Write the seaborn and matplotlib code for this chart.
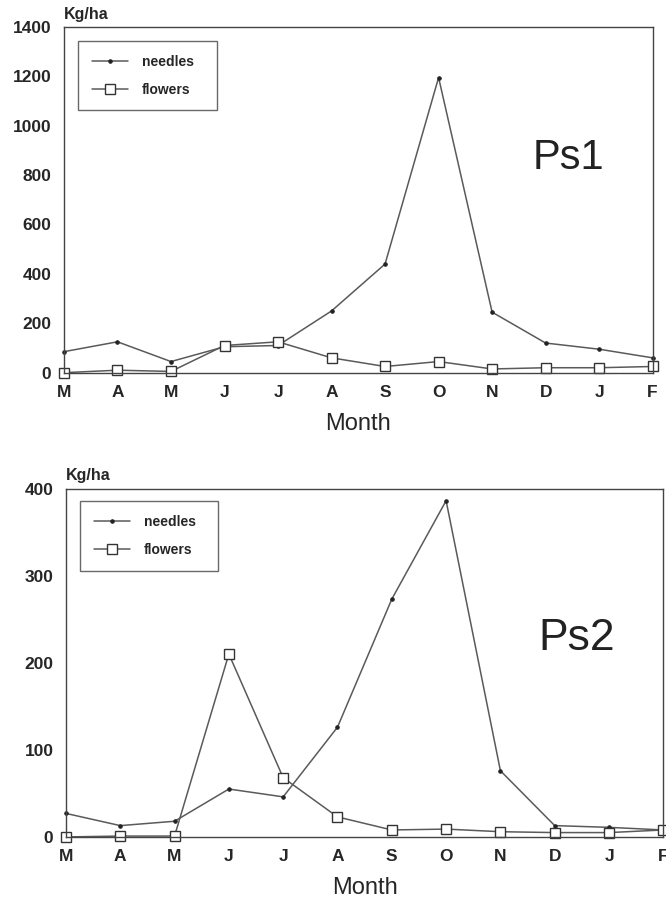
import pandas as pd
import matplotlib
matplotlib.use("Agg")
import matplotlib.pyplot as plt
import seaborn as sns

months = ["M", "A", "M", "J", "J", "A", "S", "O", "N", "D", "J", "F"]

ps1_needles = [85, 125, 45, 105, 110, 250, 440, 1195, 245, 120, 95, 60]
ps1_flowers = [0, 10, 5, 110, 125, 60, 25, 45, 15, 20, 20, 25]

ps2_needles = [27, 13, 18, 55, 46, 126, 273, 386, 76, 13, 11, 8]
ps2_flowers = [0, 1, 1, 210, 68, 23, 8, 9, 6, 5, 5, 8]

panels = [
    ("Ps1", ps1_needles, ps1_flowers, 1400, [0, 200, 400, 600, 800, 1000, 1200, 1400]),
    ("Ps2", ps2_needles, ps2_flowers, 400, [0, 100, 200, 300, 400]),
]

sns.set_theme(style="white")
plt.rcParams['font.family'] = ['Liberation Sans', 'DejaVu Sans']

line_col = "#5a5a5a"

fig = plt.figure(figsize=(6.66, 8.98), dpi=100)
ax_pos = [[0.096, 0.585, 0.884, 0.385], [0.099, 0.068, 0.897, 0.388]]
leg_box = [(0.024, 0.960, 0.236), (0.023, 0.963, 0.232)]
name_pos = [(0.857, 0.62, 30), (0.855, 0.57, 32)]

for (name, needles, flowers, ymax, yticks), pos, lb, npos in zip(panels, ax_pos, leg_box, name_pos):
    ax = fig.add_axes(pos)
    df = pd.DataFrame({"pos": list(range(len(months))) * 2,
                       "value": needles + flowers,
                       "series": ["needles"] * len(months) + ["flowers"] * len(months)})
    sns.lineplot(data=df[df.series == "needles"], x="pos", y="value", ax=ax,
                 color=line_col, lw=1.1, marker="o", markersize=2.5, clip_on=False,
                 markeredgecolor="#222222", markerfacecolor="#222222", label="needles")
    sns.lineplot(data=df[df.series == "flowers"], x="pos", y="value", ax=ax,
                 color=line_col, lw=1.1, marker="s", markersize=7, clip_on=False,
                 markerfacecolor="white", markeredgecolor="#333333", markeredgewidth=1.0,
                 label="flowers")
    ax.set_xlim(0, len(months) - 1)
    ax.set_ylim(0, ymax)
    ax.set_xticks(range(len(months)))
    ax.set_xticklabels(months, fontsize=12.5, fontweight="bold")
    ax.set_yticks(yticks)
    ax.set_yticklabels([str(t) for t in yticks], fontsize=12.5, fontweight="bold")
    ax.tick_params(axis="x", direction="in", length=4, pad=9, color="#444444")
    ax.tick_params(axis="y", direction="out", length=0, pad=9)
    for sp in ax.spines.values():
        sp.set_color("#444444")
        sp.set_linewidth(1.0)
    ax.set_xlabel("Month", fontsize=17, labelpad=9)
    ax.set_ylabel("")
    ax.text(0.0, 1.015, "Kg/ha", transform=ax.transAxes, fontsize=11.5,
            fontweight="bold", ha="left", va="bottom")
    ax.text(npos[0], npos[1], name, transform=ax.transAxes, fontsize=npos[2],
            ha="center", va="center", color="#222222")
    leg = ax.legend(loc="upper left", bbox_to_anchor=(lb[0], lb[1] - 0.2, lb[2], 0.2),
                    mode="expand", borderaxespad=0, fancybox=False, frameon=True,
                    edgecolor="#444444", handlelength=2.6, handletextpad=1.0,
                    borderpad=1.0, labelspacing=1.0, prop={"weight": "bold", "size": 10})
    leg.get_frame().set_linewidth(1.0)

fig.savefig("out.png", dpi=100)
